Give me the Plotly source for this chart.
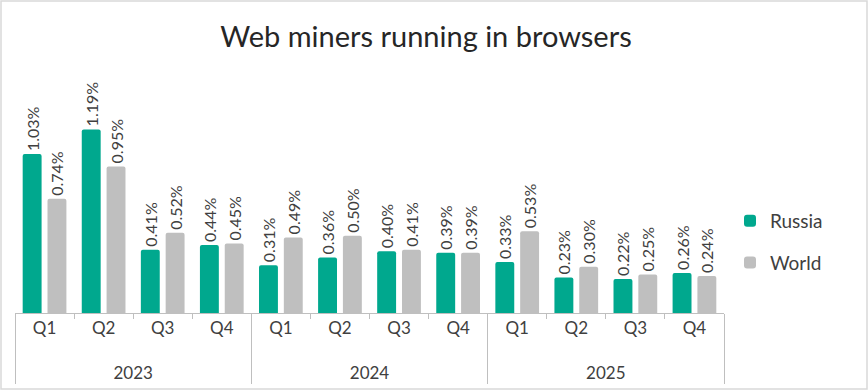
import plotly.graph_objects as go

years = ["2023"] * 4 + ["2024"] * 4 + ["2025"] * 4
quarters = ["Q1", "Q2", "Q3", "Q4"] * 3
russia = [1.03, 1.19, 0.41, 0.44, 0.31, 0.36, 0.40, 0.39, 0.33, 0.23, 0.22, 0.26]
world = [0.74, 0.95, 0.52, 0.45, 0.49, 0.50, 0.41, 0.39, 0.53, 0.30, 0.25, 0.24]

W, H = 868, 390
ML, MR, MT, MB = 15, 144, 97, 77
PW, PH = W - ML - MR, H - MT - MB

FONT = "Lato, Roboto, sans-serif"
TXT = "#404040"

# quarter labels padded with a blank line so the year row sits lower, as in the reference
q_labels = [q + "<br> " for q in quarters]

fig = go.Figure()
fig.add_trace(go.Bar(
    name="Russia", legendgroup="r", x=[years, q_labels], y=russia,
    marker=dict(color="#00A88E", line=dict(width=0), cornerradius=2),
    width=0.32, offset=-0.37,
    text=[f"{v:.2f}%" for v in russia], textposition="outside",
    textangle=-90, constraintext="none",
    textfont=dict(family=FONT, size=16, color=TXT),
    cliponaxis=False,
))
fig.add_trace(go.Bar(
    name="World", legendgroup="w", x=[years, q_labels], y=world,
    marker=dict(color="#BFBFBF", line=dict(width=0), cornerradius=2),
    width=0.32, offset=0.05,
    text=[f"{v:.2f}%" for v in world], textposition="outside",
    textangle=-90, constraintext="none",
    textfont=dict(family=FONT, size=16, color=TXT),
    cliponaxis=False,
))

def px_x(p):
    return (p - ML) / PW

def px_y(p):
    return (H - MB - p) / PH

fig.update_layout(
    width=W, height=H,
    margin=dict(l=ML, r=MR, t=MT, b=MB, autoexpand=False),
    paper_bgcolor="white", plot_bgcolor="white",
    font=dict(family=FONT, color=TXT),
    title=dict(text="Web miners running in browsers", x=426 / W, xanchor="center",
               y=1 - 37 / H, yanchor="middle",
               font=dict(family=FONT, size=29, color="#262626")),
    showlegend=True,
    legend=dict(x=px_x(730), y=px_y(202), xanchor="left", yanchor="top",
                font=dict(family=FONT, size=19, color=TXT),
                tracegroupgap=14, itemwidth=30, bgcolor="rgba(0,0,0,0)"),
    bargap=0.25,
    shapes=[dict(type="rect", xref="paper", yref="paper",
                 x0=px_x(1), x1=px_x(867), y0=px_y(389), y1=px_y(1),
                 line=dict(color="#D9D9D9", width=1.5), layer="below")],
)
fig.update_xaxes(
    type="multicategory", showline=True, linecolor="#BFBFBF", linewidth=1,
    ticks="outside", ticklen=5, tickcolor="#BFBFBF",
    showdividers=True, dividercolor="#BFBFBF", dividerwidth=1,
    tickfont=dict(family=FONT, size=17, color=TXT),
    automargin=False, showgrid=False,
)
fig.update_yaxes(visible=False, range=[0, 1.4], showgrid=False)

fig.write_html("out.html", config={"displayModeBar": False},
               post_script="document.body.style.margin='0';")
